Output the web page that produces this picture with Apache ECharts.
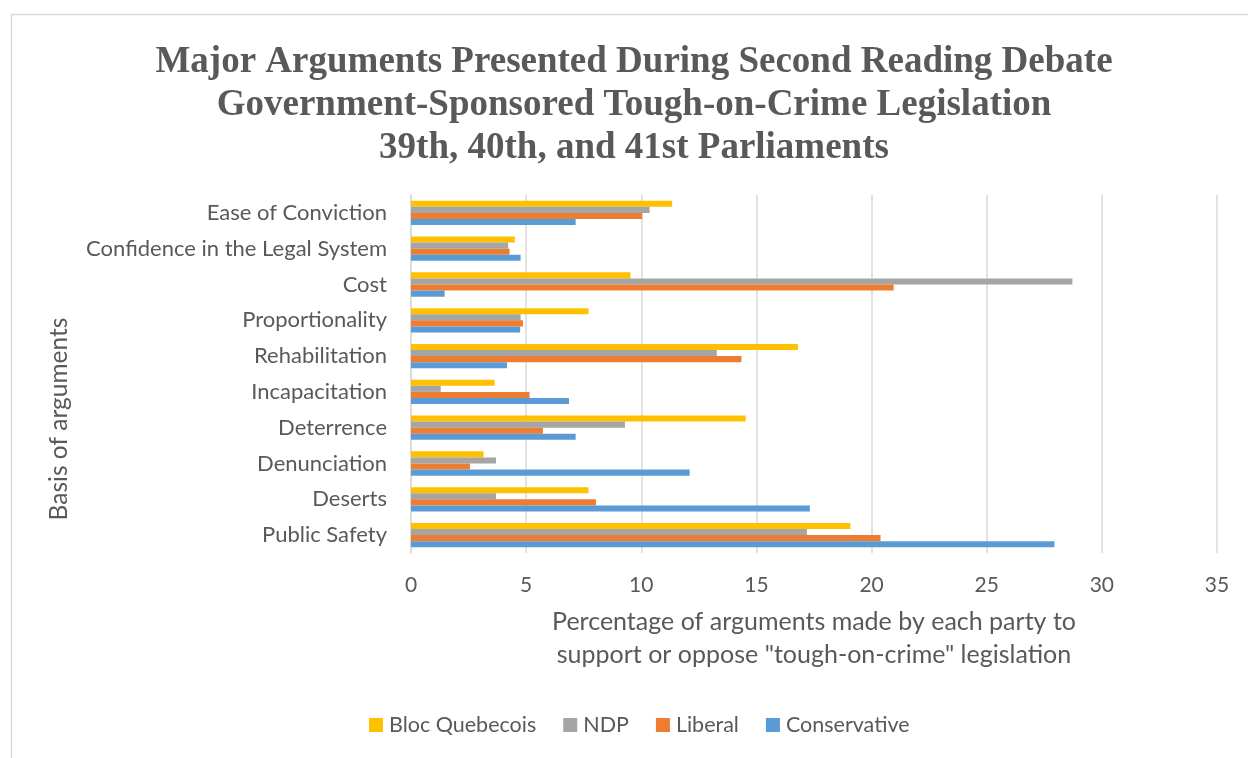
<!DOCTYPE html>
<html>
<head>
<meta charset="utf-8">
<script src="https://cdn.jsdelivr.net/npm/echarts@6/dist/echarts.min.js"></script>
<style>
  html, body { margin: 0; padding: 0; background: #ffffff; }
  #chart { width: 1248px; height: 758px; }
</style>
</head>
<body>
<div id="chart"></div>
<script>
// Argument categories, listed top to bottom
const categories = [
  'Ease of Conviction',
  'Confidence in the Legal System',
  'Cost',
  'Proportionality',
  'Rehabilitation',
  'Incapacitation',
  'Deterrence',
  'Denunciation',
  'Deserts',
  'Public Safety'
];

// Percentage of arguments made by each party, per category
const blocQuebecois = [11.34, 4.51, 9.53, 7.71, 16.8, 3.63, 14.53, 3.15, 7.71, 19.08];
const ndp           = [10.36, 4.22, 28.72, 4.76, 13.28, 1.29, 9.29, 3.69, 3.69, 17.19];
const liberal       = [10.04, 4.28, 20.96, 4.86, 14.35, 5.15, 5.73, 2.56, 8.03, 20.39];
const conservative  = [7.15, 4.76, 1.46, 4.74, 4.17, 6.86, 7.15, 12.1, 17.32, 27.94];

const seriesNames = ['Bloc Quebecois', 'NDP', 'Liberal', 'Conservative'];
const seriesColors = ['#FFC000', '#A5A5A5', '#ED7D31', '#5B9BD5'];
const seriesData = [blocQuebecois, ndp, liberal, conservative];

const titleLines = [
  'Major Arguments Presented During Second Reading Debate',
  'Government-Sponsored Tough-on-Crime Legislation',
  '39th, 40th, and 41st Parliaments'
];
const xAxisTitle = 'Percentage of arguments made by each party to\nsupport or oppose "tough-on-crime" legislation';
const yAxisTitle = 'Basis of arguments';

const textColor = '#595959';
const sansFont = 'Lato, "Open Sans", sans-serif';

const chart = echarts.init(document.getElementById('chart'), null, { renderer: 'canvas' });

chart.setOption({
  backgroundColor: '#ffffff',
  animation: false,
  legend: {
    data: seriesNames,
    left: 369,
    top: 714,
    padding: 0,
    icon: 'rect',
    itemWidth: 14,
    itemHeight: 14,
    itemGap: 27,
    textStyle: { fontFamily: sansFont, fontSize: 21.5, color: textColor, padding: [0, 0, 0, 1] }
  },
  grid: {
    left: 411,
    right: 31,
    top: 195,
    bottom: 205,
    containLabel: false
  },
  xAxis: {
    type: 'value',
    min: 0,
    max: 35,
    interval: 5,
    name: xAxisTitle,
    nameLocation: 'middle',
    nameGap: 52,
    nameTextStyle: { fontFamily: sansFont, fontSize: 25, lineHeight: 33, color: textColor },
    axisLine: { show: false },
    axisTick: { show: false },
    axisLabel: { margin: 22, fontFamily: sansFont, fontSize: 21, color: textColor },
    splitLine: { show: true, lineStyle: { color: '#d9d9d9', width: 1.5 } }
  },
  yAxis: {
    type: 'category',
    data: categories,
    inverse: true,
    axisLine: { show: true, lineStyle: { color: '#d9d9d9', width: 1.5 } },
    axisTick: { show: false },
    axisLabel: { margin: 24, fontFamily: sansFont, fontSize: 22, color: textColor },
    splitLine: { show: false }
  },
  graphic: [
    {
      type: 'rect',
      silent: true,
      shape: { x: 11.5, y: 14.5, width: 1400, height: 900 },
      style: { fill: 'none', stroke: '#d9d9d9', lineWidth: 1.5 }
    },
    {
      type: 'text',
      x: 634,
      y: 41,
      style: {
        text: titleLines.join('\n'),
        fontFamily: '"Liberation Serif", "Times New Roman", serif',
        fontWeight: 'bold',
        fontSize: 37,
        lineHeight: 43,
        fill: textColor,
        align: 'center',
        verticalAlign: 'top'
      }
    },
    {
      type: 'text',
      x: 59,
      y: 419,
      rotation: Math.PI / 2,
      style: {
        text: yAxisTitle,
        fontFamily: sansFont,
        fontSize: 24.5,
        fill: textColor,
        align: 'center',
        verticalAlign: 'middle'
      }
    }
  ],
  series: seriesNames.map((name, i) => ({
    name: name,
    type: 'bar',
    data: seriesData[i],
    itemStyle: { color: seriesColors[i] },
    barGap: '0%',
    barCategoryGap: '32%'
  }))
});
</script>
</body>
</html>
